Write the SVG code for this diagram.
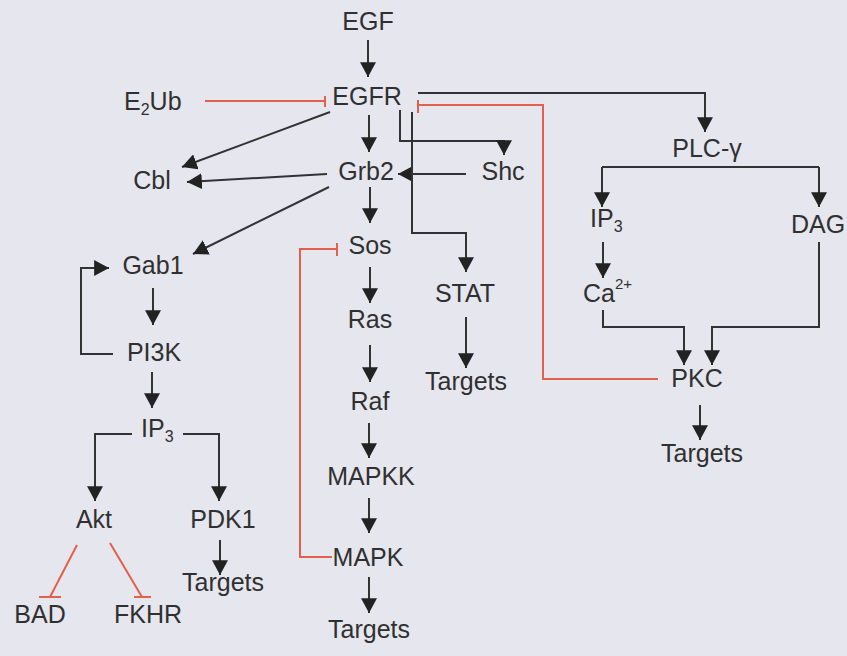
<svg xmlns="http://www.w3.org/2000/svg" width="847" height="656" viewBox="0 0 847 656">
<style>
text{font-family:"Liberation Sans",Arial,sans-serif;font-size:25px;fill:#303030;text-anchor:middle}
text.s{text-anchor:start}
.k{fill:none;stroke:#333;stroke-width:2}
.r{fill:none;stroke:#e2604c;stroke-width:2}
</style>
<defs>
<marker id="a" markerUnits="userSpaceOnUse" markerWidth="16" markerHeight="16" refX="13" refY="7" orient="auto" viewBox="0 0 14 14">
<path d="M0,0 L13,7 L0,14 z" fill="#222"/>
</marker>
</defs>
<rect width="847" height="656" fill="#e6e6ee"/>
<g id="connectors">
<line class="k" x1="368" y1="40" x2="368" y2="77" marker-end="url(#a)"/>
<path class="r" d="M205,101 H325 M325,96 V107"/>
<line class="k" x1="330" y1="112" x2="182" y2="167" marker-end="url(#a)"/>
<line class="k" x1="369" y1="115" x2="369" y2="152" marker-end="url(#a)"/>
<line class="k" x1="327" y1="174" x2="187" y2="182" marker-end="url(#a)"/>
<line class="k" x1="466" y1="174" x2="398" y2="174" marker-end="url(#a)"/>
<path class="k" d="M418,93 H705 V132" marker-end="url(#a)"/>
<path class="r" d="M418,105 H543 V379 H658 M418,100 V113"/>
<path class="k" d="M400,110 V141 H504 V155" marker-end="url(#a)"/>
<path class="k" d="M412,112 V233 H466 V272" marker-end="url(#a)"/>
<line class="k" x1="466" y1="317" x2="466" y2="368" marker-end="url(#a)"/>
<line class="k" x1="370" y1="187" x2="370" y2="223" marker-end="url(#a)"/>
<path class="r" d="M332,557 H300 V249 H337 M337,243 V256"/>
<line class="k" x1="329" y1="187" x2="193" y2="254" marker-end="url(#a)"/>
<line class="k" x1="153" y1="288" x2="153" y2="325" marker-end="url(#a)"/>
<path class="k" d="M113,354 H81 V268 H109" marker-end="url(#a)"/>
<line class="k" x1="152" y1="372" x2="152" y2="408" marker-end="url(#a)"/>
<path class="k" d="M132,434 H95 V501" marker-end="url(#a)"/>
<path class="k" d="M183,434 H219 V501" marker-end="url(#a)"/>
<line class="k" x1="220" y1="540" x2="220" y2="575" marker-end="url(#a)"/>
<path class="r" d="M77,545 L50,597 M39,597 H61"/>
<path class="r" d="M110,543 L142,597 M134,597 H151"/>
<line class="k" x1="370" y1="267" x2="370" y2="303" marker-end="url(#a)"/>
<line class="k" x1="370" y1="345" x2="370" y2="382" marker-end="url(#a)"/>
<line class="k" x1="369" y1="423" x2="369" y2="458" marker-end="url(#a)"/>
<line class="k" x1="369" y1="498" x2="369" y2="533" marker-end="url(#a)"/>
<line class="k" x1="369" y1="577" x2="369" y2="613" marker-end="url(#a)"/>
<path class="k" d="M602,167 H819"/>
<line class="k" x1="602" y1="167" x2="602" y2="207" marker-end="url(#a)"/>
<line class="k" x1="819" y1="167" x2="819" y2="207" marker-end="url(#a)"/>
<line class="k" x1="603" y1="242" x2="603" y2="278" marker-end="url(#a)"/>
<path class="k" d="M603,310 V327 H684 V365" marker-end="url(#a)"/>
<path class="k" d="M819,242 V327 H712 V365" marker-end="url(#a)"/>
<line class="k" x1="700" y1="405" x2="700" y2="440" marker-end="url(#a)"/>
</g>
<g id="EGF"><text x="368" y="30">EGF</text></g>
<g id="EGFR"><text x="367" y="105">EGFR</text></g>
<g id="E2Ub"><text class="s" x="124" y="110">E<tspan font-size="16" dy="5">2</tspan><tspan dy="-5">Ub</tspan></text></g>
<g id="Cbl"><text x="152" y="189">Cbl</text></g>
<g id="Grb2"><text x="366" y="180">Grb2</text></g>
<g id="Shc"><text x="503" y="180">Shc</text></g>
<g id="PLCg"><text x="707" y="157">PLC-γ</text></g>
<g id="IP3r"><text class="s" x="590" y="227">IP<tspan font-size="16" dy="5">3</tspan></text></g>
<g id="DAG"><text class="s" x="791" y="233">DAG</text></g>
<g id="Gab1"><text x="153" y="274">Gab1</text></g>
<g id="Sos"><text x="370" y="254">Sos</text></g>
<g id="STAT"><text x="465" y="302">STAT</text></g>
<g id="Ca"><text class="s" x="583" y="302">Ca<tspan font-size="15" dy="-13">2+</tspan></text></g>
<g id="Ras"><text x="370" y="328">Ras</text></g>
<g id="PI3K"><text x="154" y="361">PI3K</text></g>
<g id="TargetsSTAT"><text x="466" y="390">Targets</text></g>
<g id="PKC"><text x="697" y="387">PKC</text></g>
<g id="Raf"><text x="370" y="410">Raf</text></g>
<g id="IP3l"><text class="s" x="141" y="437">IP<tspan font-size="16" dy="5">3</tspan></text></g>
<g id="TargetsPKC"><text x="702" y="462">Targets</text></g>
<g id="MAPKK"><text x="371" y="485">MAPKK</text></g>
<g id="Akt"><text x="94" y="528">Akt</text></g>
<g id="PDK1"><text x="223" y="528">PDK1</text></g>
<g id="MAPK"><text x="368" y="566">MAPK</text></g>
<g id="TargetsPDK1"><text x="223" y="591">Targets</text></g>
<g id="BAD"><text x="40" y="623">BAD</text></g>
<g id="FKHR"><text x="148" y="623">FKHR</text></g>
<g id="TargetsMAPK"><text x="369" y="638">Targets</text></g>
</svg>
